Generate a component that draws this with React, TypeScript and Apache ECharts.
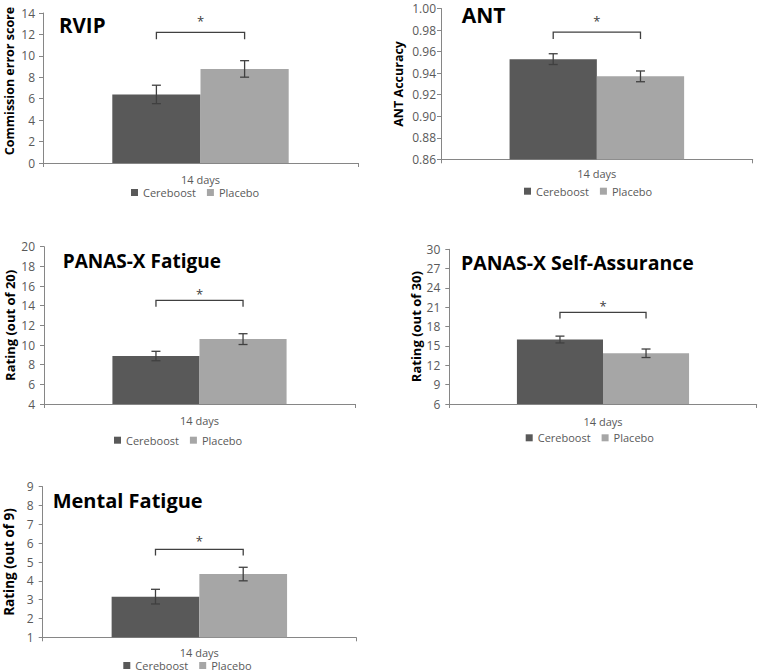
import React, { useEffect, useRef } from 'react';
import * as echarts from 'echarts';

// ---------- data ----------
const categories = ['14 days'];
const seriesNames = ['Cereboost', 'Placebo'];
const titles = ['RVIP', 'ANT', 'PANAS-X Fatigue', 'PANAS-X Self-Assurance', 'Mental Fatigue'];
const yAxisNames = ['Commission error score', 'ANT Accuracy', 'Rating (out of 20)', 'Rating (out of 30)', 'Rating (out of 9)'];
const cereboostMeans = [6.4, 0.953, 8.88, 16.0, 3.16];
const cereboostErrors = [0.86, 0.005, 0.48, 0.53, 0.39];
const placeboMeans = [8.78, 0.937, 10.6, 13.87, 4.36];
const placeboErrors = [0.77, 0.005, 0.55, 0.66, 0.36];
const bracketLevels = [12.2, 0.978, 14.55, 20.2, 5.67];
const significanceMarks = ['*', '*', '*', '*', '*'];
const yMins = [0, 0.86, 4, 6, 1];
const yMaxs = [14, 1.0, 20, 30, 9];
const yIntervals = [2, 0.02, 2, 3, 1];
const yDecimals = [0, 2, 0, 0, 0];

// ---------- layout / style ----------
const layout = [
  { left: 43, top: 13, width: 315, height: 150, titleX: 59, titleY: 24.5, titleSize: 20.5, nameSize: 12.5, nameGap: 27.5, namePad: 14, yLabelMargin: 8, xLabelMargin: 10.5, legendLeft: 131, legendY: 193, starGap: 11.5, capTick: 7 },
  { left: 441, top: 8.5, width: 311.7, height: 150.8, titleX: 461.7, titleY: 15, titleSize: 21, nameSize: 12.5, nameGap: 36.4, namePad: 0, yLabelMargin: 5, xLabelMargin: 9, legendLeft: 524, legendY: 191.7, starGap: 11, capTick: 6.7 },
  { left: 44, top: 246.7, width: 311, height: 157.3, titleX: 62.7, titleY: 260.8, titleSize: 19, nameSize: 13, nameGap: 28, namePad: 0, yLabelMargin: 9, xLabelMargin: 11, legendLeft: 114, legendY: 440.7, starGap: 6.5, capTick: 6.4 },
  { left: 449.3, top: 249.3, width: 307.4, height: 154.7, titleX: 461, titleY: 262.7, titleSize: 19.5, nameSize: 13, nameGap: 27, namePad: 0, yLabelMargin: 9, xLabelMargin: 12, legendLeft: 525.7, legendY: 438.3, starGap: 6.5, capTick: 6 },
  { left: 42.7, top: 486.7, width: 313.3, height: 150.6, titleX: 52.7, titleY: 500.8, titleSize: 20, nameSize: 13.5, nameGap: 26.5, namePad: 0, yLabelMargin: 9, xLabelMargin: 9.5, legendLeft: 123.3, legendY: 666, starGap: 8, capTick: 6 },
];

const FONT = '"Open Sans", "Noto Sans", sans-serif';
const BAR_FRAC = 0.28;
const COLORS = ['#595959', '#a6a6a6'];
const AXIS_COLOR = '#868686';
const LABEL_COLOR = '#595959';
const ERR_COLOR = '#404040';

function buildOption() {
  const grid = layout.map((l) => ({ left: l.left, top: l.top, width: l.width, height: l.height }));
  const xAxis = layout.map((l, i) => ({
    type: 'category',
    gridIndex: i,
    data: categories,
    axisLine: { show: true, lineStyle: { color: AXIS_COLOR, width: 1 } },
    axisTick: { show: true, length: 4, lineStyle: { color: AXIS_COLOR } },
    axisLabel: { margin: l.xLabelMargin, fontSize: 11, color: LABEL_COLOR, fontFamily: FONT },
    splitLine: { show: false },
  }));
  const yAxis = layout.map((l, i) => ({
    type: 'value',
    gridIndex: i,
    min: yMins[i],
    max: yMaxs[i],
    interval: yIntervals[i],
    name: yAxisNames[i],
    nameLocation: 'middle',
    nameGap: l.nameGap,
    nameTextStyle: {
      fontSize: l.nameSize,
      fontWeight: 'bold',
      color: '#000',
      fontFamily: FONT,
      padding: [0, 0, 0, l.namePad],
    },
    axisLine: { show: true, lineStyle: { color: AXIS_COLOR, width: 1 } },
    axisTick: { show: true, length: 4, lineStyle: { color: AXIS_COLOR } },
    axisLabel: {
      margin: l.yLabelMargin,
      fontSize: 12,
      color: LABEL_COLOR,
      fontFamily: FONT,
      formatter: (v: number) => v.toFixed(yDecimals[i]),
    },
    splitLine: { show: false },
  }));

  const series: any[] = [];
  layout.forEach((l, i) => {
    const means = [cereboostMeans[i], placeboMeans[i]];
    const errs = [cereboostErrors[i], placeboErrors[i]];
    seriesNames.forEach((name, k) => {
      series.push({
        type: 'bar',
        name,
        xAxisIndex: i,
        yAxisIndex: i,
        data: [means[k]],
        barWidth: `${BAR_FRAC * 100}%`,
        barGap: '0%',
        itemStyle: { color: COLORS[k] },
        clip: true,
      });
    });
    // error bars
    series.push({
      type: 'custom',
      name: `err-${i}`,
      xAxisIndex: i,
      yAxisIndex: i,
      z: 4,
      data: [
        [0, means[0], errs[0], 0],
        [0, means[1], errs[1], 1],
      ],
      encode: { x: 0, y: 1 },
      renderItem: (params: any, api: any) => {
        const cat = api.value(0);
        const v = api.value(1);
        const e = api.value(2);
        const k = api.value(3);
        const bw = api.size([1, 0])[0];
        const off = (k === 0 ? -1 : 1) * (bw * BAR_FRAC) / 2;
        const hi = api.coord([cat, v + e]);
        const lo = api.coord([cat, v - e]);
        const x = hi[0] + off;
        const cap = 4.5;
        const style = { stroke: ERR_COLOR, lineWidth: 1.3 };
        return {
          type: 'group',
          children: [
            { type: 'line', shape: { x1: x, y1: hi[1], x2: x, y2: lo[1] }, style },
            { type: 'line', shape: { x1: x - cap, y1: hi[1], x2: x + cap, y2: hi[1] }, style },
            { type: 'line', shape: { x1: x - cap, y1: lo[1], x2: x + cap, y2: lo[1] }, style },
          ],
        };
      },
    });
    // significance bracket
    series.push({
      type: 'custom',
      name: `sig-${i}`,
      xAxisIndex: i,
      yAxisIndex: i,
      z: 4,
      data: [[0, bracketLevels[i]]],
      encode: { x: 0, y: 1 },
      renderItem: (params: any, api: any) => {
        const p = api.coord([api.value(0), api.value(1)]);
        const bw = api.size([1, 0])[0];
        const half = (bw * BAR_FRAC) / 2;
        const x1 = p[0] - half;
        const x2 = p[0] + half;
        const y = p[1];
        const t = l.capTick;
        return {
          type: 'group',
          children: [
            {
              type: 'polyline',
              shape: { points: [[x1, y + t], [x1, y], [x2, y], [x2, y + t]] },
              style: { stroke: ERR_COLOR, lineWidth: 1.3, fill: 'none' },
            },
            {
              type: 'text',
              style: {
                text: significanceMarks[i],
                x: p[0],
                y: y - l.starGap,
                align: 'center',
                verticalAlign: 'middle',
                font: `13px ${FONT}`,
                fill: ERR_COLOR,
              },
            },
          ],
        };
      },
    });
  });

  const legend = layout.map((l) => ({
    data: seriesNames,
    left: l.legendLeft,
    top: l.legendY - 6,
    orient: 'horizontal',
    icon: 'rect',
    itemWidth: 7,
    itemHeight: 7,
    itemGap: 11,
    padding: 0,
    selectedMode: false,
    textStyle: { fontSize: 11, color: LABEL_COLOR, fontFamily: FONT },
  }));

  const graphic = layout.map((l, i) => ({
    type: 'text',
    x: l.titleX,
    y: l.titleY,
    style: {
      text: titles[i],
      font: `bold ${l.titleSize}px ${FONT}`,
      fill: '#000',
      align: 'left',
      verticalAlign: 'middle',
    },
  }));

  return {
    animation: false,
    textStyle: { fontFamily: FONT },
    grid,
    xAxis,
    yAxis,
    legend,
    graphic,
    series,
  };
}

export default function App() {
  const ref = useRef<HTMLDivElement>(null);
  useEffect(() => {
    if (!ref.current) return;
    const chart = echarts.init(ref.current, undefined, { renderer: 'svg' });
    chart.setOption(buildOption() as any);
    return () => chart.dispose();
  }, []);
  return (
    <div
      ref={ref}
      style={{ position: 'absolute', left: 0, top: 0, width: 758, height: 672, background: '#fff' }}
    />
  );
}
